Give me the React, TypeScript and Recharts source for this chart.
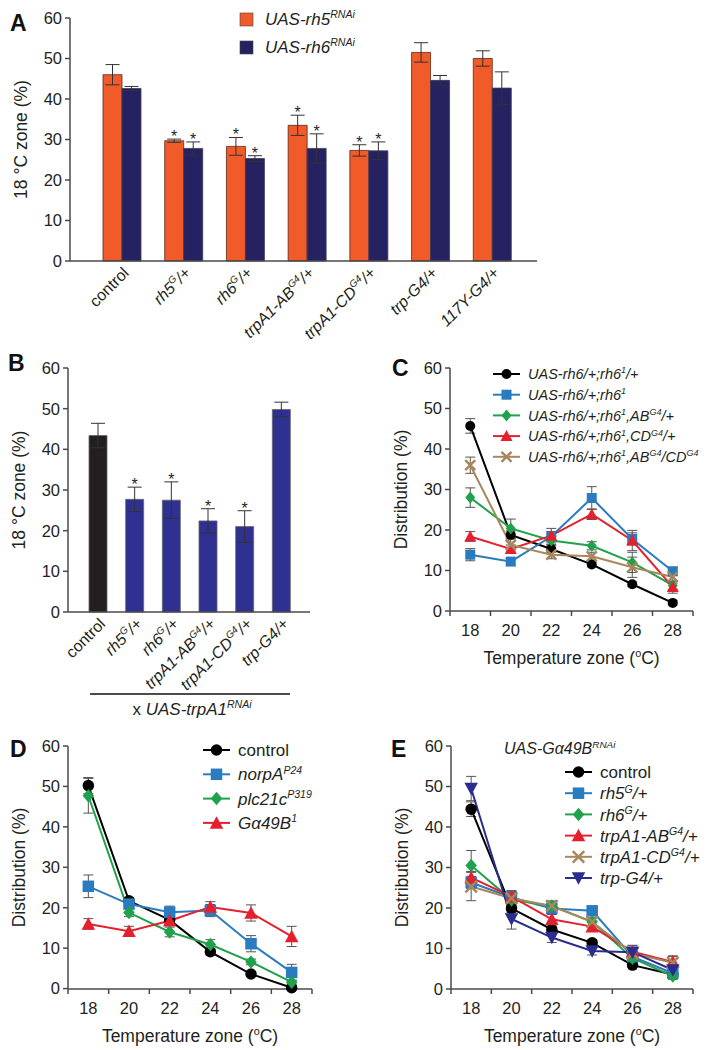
import React from "react";
import { BarChart, Bar, LineChart, Line, XAxis, YAxis, ErrorBar, LabelList, Cell, Legend } from "recharts";

const FONT = "'Liberation Sans', Arial, Helvetica, sans-serif";
const INK = "#231f20";
const AXIS = "#4a4a4a";
const axisLine = { stroke: AXIS, strokeWidth: 1.5 };

const pctTicks = [0, 10, 20, 30, 40, 50, 60];
const temps = [18, 20, 22, 24, 26, 28];
const tempTicks = [17, 18, 19, 20, 21, 22, 23, 24, 25, 26, 27, 28, 29];

// ---- A: 18 C zone, rh5 / rh6 RNAi
const groupsA = ["control", "rh5", "rh6", "trpA1-AB", "trpA1-CD", "trp-G4", "117Y-G4"];
const tickLabelsA = ["control", "rh5^{G}/+", "rh6^{G}/+", "trpA1-AB^{G4}/+", "trpA1-CD^{G4}/+", "trp-G4/+", "117Y-G4/+"];
const rh5Rnai = [46.0, 29.7, 28.3, 33.5, 27.3, 51.5, 50.0];
const rh5RnaiErr = [2.5, 0.4, 2.2, 2.5, 1.4, 2.4, 1.9];
const rh6Rnai = [42.6, 27.8, 25.3, 27.8, 27.2, 44.6, 42.7];
const rh6RnaiErr = [0.5, 1.6, 0.7, 3.6, 2.2, 1.2, 4.0];
const sigA = [false, true, true, true, true, false, false];

// ---- B: x UAS-trpA1 RNAi
const groupsB = ["control", "rh5", "rh6", "trpA1-AB", "trpA1-CD", "trp-G4"];
const tickLabelsB = ["control", "rh5^{G}/+", "rh6^{G}/+", "trpA1-AB^{G4}/+", "trpA1-CD^{G4}/+", "trp-G4/+"];
const trpA1Rnai = [43.4, 27.7, 27.5, 22.4, 21.0, 49.8];
const trpA1RnaiErr = [3.0, 3.0, 4.5, 3.0, 3.9, 1.8];
const sigB = [false, true, true, true, true, false];

// ---- C: rh6 rescue
const cLabels = [
  "UAS-rh6/+;rh6^{1}/+",
  "UAS-rh6/+;rh6^{1}",
  "UAS-rh6/+;rh6^{1},AB^{G4}/+",
  "UAS-rh6/+;rh6^{1},CD^{G4}/+",
  "UAS-rh6/+;rh6^{1},AB^{G4}/CD^{G4}",
];
const cHet = [45.7, 18.8, 15.3, 11.5, 6.6, 2.0];
const cHetErr = [1.8, 1.0, 0.8, 0.6, 0.6, 0.5];
const cMut = [13.9, 12.2, 18.4, 27.9, 17.8, 9.8];
const cMutErr = [1.5, 0.8, 1.2, 2.8, 1.5, 1.0];
const cAB = [28.0, 20.4, 17.4, 16.1, 12.0, 6.3];
const cABErr = [2.4, 2.3, 1.0, 1.0, 2.5, 1.0];
const cCD = [18.4, 15.3, 18.6, 23.9, 17.4, 5.9];
const cCDErr = [1.2, 1.0, 1.8, 1.3, 2.5, 1.5];
const cABCD = [36.0, 16.3, 13.9, 13.5, 10.8, 8.4];
const cABCDErr = [2.0, 1.5, 1.0, 1.0, 2.5, 1.5];

// ---- D: phototransduction mutants
const dLabels = ["control", "norpA^{P24}", "plc21c^{P319}", "G\u03b149B^{1}"];
const dControl = [50.2, 21.7, 17.0, 9.1, 3.6, 0.2];
const dControlErr = [2.0, 0.8, 0.8, 0.8, 0.5, 0.3];
const dNorpA = [25.3, 20.9, 18.9, 19.3, 11.1, 4.0];
const dNorpAErr = [2.8, 1.0, 1.5, 1.5, 2.0, 2.0];
const dPlc21c = [47.7, 18.8, 14.0, 10.9, 6.6, 1.6];
const dPlc21cErr = [4.3, 1.0, 1.2, 1.2, 0.7, 0.5];
const dGa49b = [16.0, 14.2, 16.8, 20.2, 18.7, 12.9];
const dGa49bErr = [1.3, 1.2, 0.8, 1.3, 2.0, 2.5];

// ---- E: UAS-Ga49B RNAi
const eLabels = ["control", "rh5^{G}/+", "rh6^{G}/+", "trpA1-AB^{G4}/+", "trpA1-CD^{G4}/+", "trp-G4/+"];
const eControl = [44.4, 19.9, 14.7, 11.4, 5.9, 3.6];
const eControlErr = [1.8, 1.0, 0.8, 0.8, 0.6, 0.5];
const eRh5 = [26.3, 22.6, 19.9, 19.3, 8.0, 3.9];
const eRh5Err = [1.5, 1.5, 1.5, 0.8, 1.5, 1.0];
const eRh6 = [30.5, 22.0, 20.5, 16.6, 7.6, 3.2];
const eRh6Err = [3.7, 1.5, 1.2, 1.0, 1.5, 0.8];
const eAB = [27.5, 22.8, 17.2, 15.4, 9.2, 6.7];
const eABErr = [1.5, 1.5, 1.2, 1.0, 1.5, 1.5];
const eCD = [25.3, 22.4, 20.5, 16.6, 8.8, 6.5];
const eCDErr = [3.5, 1.5, 1.2, 1.0, 2.0, 1.5];
const eTrp = [49.5, 17.3, 12.7, 9.4, 9.1, 4.7];
const eTrpErr = [3.0, 2.5, 1.2, 1.0, 1.0, 0.8];

const BLACK = "#000000";
const BLUE = "#2a7bbf";
const GREEN = "#1fa24b";
const RED = "#e5202e";
const TAN = "#a8875c";
const NAVY = "#2b2d8e";

const dataA = groupsA.map((g, i) => ({ g, rh5: rh5Rnai[i], rh5Err: rh5RnaiErr[i], rh6: rh6Rnai[i], rh6Err: rh6RnaiErr[i] }));
const dataB = groupsB.map((g, i) => ({ g, v: trpA1Rnai[i], err: trpA1RnaiErr[i] }));

function table(series: number[][], errs: number[][]) {
  return temps.map((t, i) => {
    const row: any = { t };
    series.forEach((s, k) => {
      row["s" + k] = s[i];
      row["e" + k] = errs[k][i];
    });
    return row;
  });
}

// text with ^{superscript} parts
function Rich({ s, size }: { s: string; size: number }) {
  const parts = s.split(/(\^\{[^}]*\})/).filter(Boolean);
  let up = false;
  return (
    <>
      {parts.map((p, i) => {
        if (p.startsWith("^{")) {
          const dy = up ? 0 : -size * 0.4;
          up = true;
          return <tspan key={i} fontSize={size * 0.62} dy={dy}>{p.slice(2, -1)}</tspan>;
        }
        const dy = up ? size * 0.4 : 0;
        up = false;
        return <tspan key={i} fontSize={size} dy={dy}>{p}</tspan>;
      })}
    </>
  );
}

const rotTick = (groups: string[], labels: string[]) => (props: any) => {
  const { x, y, payload } = props;
  const s = labels[groups.indexOf(payload.value)];
  return (
    <g transform={`translate(${x + 8},${y + 13})`}>
      <text transform="rotate(-45)" textAnchor="end" fontFamily={FONT} fill={INK}
        fontStyle={s === "control" ? "normal" : "italic"}>
        <Rich s={s} size={16} />
      </text>
    </g>
  );
};

const yTitle = (text: string) => (props: any) => {
  const vb = props.viewBox;
  const cx = vb.x + vb.width - 49;
  const cy = vb.y + vb.height / 2;
  return (
    <text x={cx} y={cy} transform={`rotate(-90 ${cx} ${cy})`} textAnchor="middle" dominantBaseline="central"
      fontFamily={FONT} fontSize={17.5} fill={INK}>{text}</text>
  );
};

const xTitle = (props: any) => {
  const vb = props.viewBox;
  return (
    <text x={vb.x + vb.width / 2} y={vb.y + 53} textAnchor="middle" fontFamily={FONT} fontSize={17.5} fill={INK}>
      <Rich s="Temperature zone (^{o}C)" size={17.5} />
    </text>
  );
};

const TempTick = (props: any) => {
  const { x, y, payload } = props;
  const v = payload.value;
  if (v % 2 === 1) return <line x1={x} x2={x} y1={y} y2={y + 5} stroke={AXIS} strokeWidth={1.5} />;
  return <text x={x} y={y + 25} textAnchor="middle" fontFamily={FONT} fontSize={16.5} fill={INK}>{v}</text>;
};

const starLabel = (errs: number[], sig: boolean[]) => (props: any) => {
  const { x, y, width, height, value, index } = props;
  if (!sig[index]) return null;
  const top = y - (errs[index] * height) / value;
  return <text x={x + width / 2} y={top + 3} textAnchor="middle" fontFamily={FONT} fontSize={16} fill={INK}>*</text>;
};

const yAxisProps = {
  width: 50,
  domain: [0, 60] as [number, number],
  ticks: pctTicks,
  interval: 0 as const,
  tickSize: 5,
  tickMargin: 3,
  axisLine,
  tickLine: { stroke: AXIS, strokeWidth: 1.5 },
  tick: { fontSize: 16.5, fill: INK, fontFamily: FONT },
};

function Marker({ shape, cx, cy, color, s }: { shape: string; cx: number; cy: number; color: string; s: number }) {
  const h = s / 2;
  switch (shape) {
    case "circle":
      return <circle cx={cx} cy={cy} r={h} fill={color} />;
    case "square":
      return <rect x={cx - h} y={cy - h} width={s} height={s} fill={color} />;
    case "diamond":
      return <polygon points={`${cx},${cy - h - 1} ${cx + h},${cy} ${cx},${cy + h + 1} ${cx - h},${cy}`} fill={color} />;
    case "triangle":
      return <polygon points={`${cx},${cy - h - 1} ${cx + h + 1},${cy + h} ${cx - h - 1},${cy + h}`} fill={color} />;
    case "down":
      return <polygon points={`${cx},${cy + h + 1} ${cx + h + 1},${cy - h} ${cx - h - 1},${cy - h}`} fill={color} />;
    default:
      return (
        <g stroke={color} strokeWidth={2.5}>
          <line x1={cx - h} y1={cy - h} x2={cx + h} y2={cy + h} />
          <line x1={cx - h} y1={cy + h} x2={cx + h} y2={cy - h} />
        </g>
      );
  }
}

function LineLegend({ labels, colors, shapes, size, gap, s }: any) {
  const w = 260;
  return (
    <svg width={w} height={labels.length * gap + 4} style={{ overflow: "visible" }}>
      {labels.map((l: string, i: number) => {
        const y = 11 + i * gap;
        return (
          <g key={i}>
            <line x1={0} x2={27} y1={y} y2={y} stroke={colors[i]} strokeWidth={2} />
            <Marker shape={shapes[i]} cx={13.5} cy={y} color={colors[i]} s={s} />
            <text x={35} y={y + size * 0.36} fontFamily={FONT} fontSize={size} fill={INK}
              fontStyle={l === "control" ? "normal" : "italic"}>
              <Rich s={l} size={size} />
            </text>
          </g>
        );
      })}
    </svg>
  );
}

function LinePanel({ width, height, margin, data, colors, shapes, labels, legendPos, legendSize, legendGap, s }: any) {
  return (
    <LineChart width={width} height={height} data={data} margin={margin}>
      <XAxis type="number" dataKey="t" domain={[17, 29]} ticks={tempTicks} interval={0} tickSize={0} tickMargin={0}
        tickLine={false} axisLine={axisLine} height={height - margin.top - 243} tick={TempTick} label={xTitle} />
      <YAxis {...yAxisProps} label={yTitle("Distribution (%)")} />
      {colors.map((c: string, k: number) => (
        <Line key={k} type="linear" dataKey={"s" + k} stroke={c} strokeWidth={2} isAnimationActive={false} activeDot={false}
          dot={(p: any) => <Marker key={p.index} shape={shapes[k]} cx={p.cx} cy={p.cy} color={c} s={s} />}>
          <ErrorBar dataKey={"e" + k} width={5} stroke="#555" strokeWidth={1} />
        </Line>
      ))}
      <Legend layout="vertical" align="center" verticalAlign="middle"
        wrapperStyle={{ left: legendPos[0], top: legendPos[1], width: 260, height: 140 }}
        content={() => <LineLegend labels={labels} colors={colors} shapes={shapes} size={legendSize} gap={legendGap} s={s} />} />
    </LineChart>
  );
}

function PanelA() {
  return (
    <BarChart width={560} height={350} data={dataA} margin={{ top: 18, right: 23, bottom: 0, left: 20 }} barGap={0}>
      <XAxis dataKey="g" height={89} padding={{ left: 21, right: 14 }} tickLine={false} tickSize={0} tickMargin={0}
        axisLine={axisLine} interval={0} tick={rotTick(groupsA, tickLabelsA)} />
      <YAxis {...yAxisProps} label={yTitle("18 \u00b0C zone (%)")} />
      <Bar dataKey="rh5" fill="#f15a29" stroke="#5a2a18" strokeWidth={0.8} barSize={19} isAnimationActive={false}>
        <ErrorBar dataKey="rh5Err" width={7} stroke="#333" strokeWidth={1} />
        <LabelList dataKey="rh5" content={starLabel(rh5RnaiErr, sigA)} />
      </Bar>
      <Bar dataKey="rh6" fill="#262261" stroke="#3c3c55" strokeWidth={0.8} barSize={19} isAnimationActive={false}>
        <ErrorBar dataKey="rh6Err" width={7} stroke="#333" strokeWidth={1} />
        <LabelList dataKey="rh6" content={starLabel(rh6RnaiErr, sigA)} />
      </Bar>
      <Legend layout="vertical" align="center" verticalAlign="middle"
        wrapperStyle={{ left: 238, top: 6, width: 160, height: 50 }}
        content={() => (
          <svg width={160} height={50}>
            {[["#f15a29", "UAS-rh5^{RNAi}"], ["#262261", "UAS-rh6^{RNAi}"]].map(([c, l], i) => (
              <g key={i}>
                <rect x={2} y={7 + i * 28} width={13} height={13} fill={c} stroke="#444" strokeWidth={0.6} />
                <text x={27} y={19 + i * 28} fontFamily={FONT} fontSize={17} fontStyle="italic" fill={INK}>
                  <Rich s={l} size={17} />
                </text>
              </g>
            ))}
          </svg>
        )} />
    </BarChart>
  );
}

function PanelB() {
  return (
    <BarChart width={330} height={350} data={dataB} margin={{ top: 18, right: 20, bottom: 0, left: 18 }}>
      <XAxis dataKey="g" height={88} padding={{ left: 12, right: 10 }} tickLine={false} tickSize={0} tickMargin={0}
        axisLine={axisLine} interval={0} tick={rotTick(groupsB, tickLabelsB)} />
      <YAxis {...yAxisProps} label={yTitle("18 \u00b0C zone (%)")} />
      <Bar dataKey="v" barSize={18} stroke="#666" strokeWidth={0.8} isAnimationActive={false}>
        {dataB.map((d, i) => (
          <Cell key={i} fill={d.g === "control" ? "#231f20" : "#2e3192"} />
        ))}
        <ErrorBar dataKey="err" width={7} stroke="#333" strokeWidth={1} />
        <LabelList dataKey="v" content={starLabel(trpA1RnaiErr, sigB)} />
      </Bar>
    </BarChart>
  );
}

export default function App() {
  const dataC = table([cHet, cMut, cAB, cCD, cABCD], [cHetErr, cMutErr, cABErr, cCDErr, cABCDErr]);
  const dataD = table([dControl, dNorpA, dPlc21c, dGa49b], [dControlErr, dNorpAErr, dPlc21cErr, dGa49bErr]);
  const dataE = table([eControl, eRh5, eRh6, eAB, eCD, eTrp], [eControlErr, eRh5Err, eRh6Err, eABErr, eCDErr, eTrpErr]);
  const letter = { fontFamily: FONT, fontSize: 23, fontWeight: 700, fill: "#111" } as const;
  return (
    <div style={{ position: "absolute", left: 0, top: 0, width: 710, height: 1050, background: "#fff", fontFamily: FONT }}>
      <div style={{ position: "absolute", left: 0, top: 0 }}><PanelA /></div>
      <div style={{ position: "absolute", left: 0, top: 350 }}><PanelB /></div>
      <div style={{ position: "absolute", left: 340, top: 350 }}>
        <LinePanel width={370} height={350} margin={{ top: 18, right: 17, bottom: 0, left: 60 }} data={dataC}
          colors={[BLACK, BLUE, GREEN, RED, TAN]} shapes={["circle", "square", "diamond", "triangle", "x"]}
          labels={cLabels} legendPos={[153, 13]} legendSize={14.5} legendGap={20.7} s={10} />
      </div>
      <div style={{ position: "absolute", left: 0, top: 728 }}>
        <LinePanel width={340} height={322} margin={{ top: 18, right: 28, bottom: 0, left: 18 }} data={dataD}
          colors={[BLACK, BLUE, GREEN, RED]} shapes={["circle", "square", "diamond", "triangle"]}
          labels={dLabels} legendPos={[203, 11]} legendSize={17} legendGap={24.3} s={11.5} />
      </div>
      <div style={{ position: "absolute", left: 340, top: 728 }}>
        <LinePanel width={370} height={322} margin={{ top: 18, right: 17, bottom: 0, left: 61 }} data={dataE}
          colors={[BLACK, BLUE, GREEN, RED, TAN, NAVY]} shapes={["circle", "square", "diamond", "triangle", "x", "down"]}
          labels={eLabels} legendPos={[225, 33]} legendSize={17} legendGap={21.2} s={11.5} />
      </div>
      <svg width={710} height={1050} style={{ position: "absolute", left: 0, top: 0, pointerEvents: "none" }}>
        <text x={10} y={31} {...letter}>A</text>
        <text x={8} y={371} {...letter}>B</text>
        <text x={392} y={376} {...letter}>C</text>
        <text x={10} y={757} {...letter}>D</text>
        <text x={391} y={757} {...letter}>E</text>
        <line x1={90} x2={290} y1={694} y2={694} stroke="#111" strokeWidth={1.3} />
        <text x={192} y={715} textAnchor="middle" fontFamily={FONT} fontSize={17} fill={INK}>
          <tspan>x </tspan>
          <tspan fontStyle="italic"><Rich s="UAS-trpA1^{RNAi}" size={17} /></tspan>
        </text>
        <text x={504} y={754} fontFamily={FONT} fontSize={16} fontStyle="italic" fill={INK}>
          <Rich s={"UAS-G\u03b149B^{RNAi}"} size={16} />
        </text>
      </svg>
    </div>
  );
}
